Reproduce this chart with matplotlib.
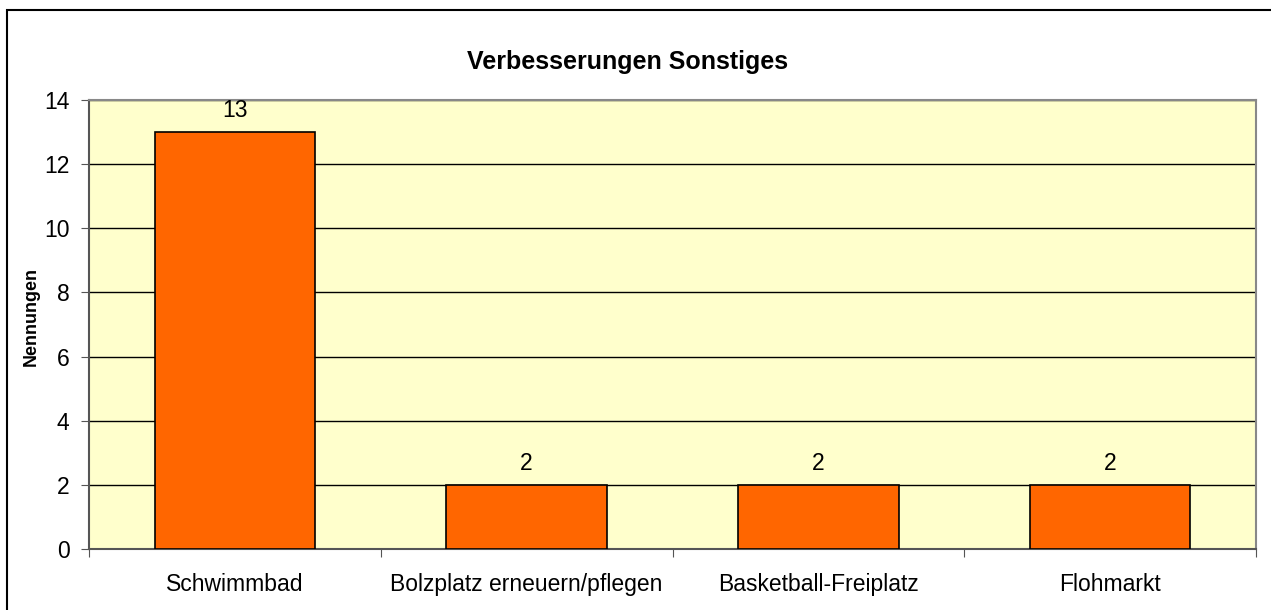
import matplotlib
matplotlib.use("Agg")
import matplotlib.pyplot as plt
from matplotlib.patches import Rectangle

# data
categories = ["Schwimmbad", "Bolzplatz erneuern/pflegen", "Basketball-Freiplatz", "Flohmarkt"]
nennungen = [13, 2, 2, 2]
y_ticks = [0, 2, 4, 6, 8, 10, 12, 14]

plt.rcParams['font.family'] = ['Liberation Sans', 'DejaVu Sans']

W, H = 1271, 610
fig = plt.figure(figsize=(W / 100, H / 100), dpi=100)

# plot area in pixels: left 89, right 1256, top 100, bottom 549
ax = fig.add_axes([89 / W, 1 - 549 / H, (1256 - 89) / W, (549 - 100) / H])
ax.set_facecolor('#FFFFCC')

x = list(range(len(categories)))
ax.bar(x, nennungen, width=0.55, color='#FF6600', edgecolor='black',
       linewidth=1.2, zorder=3)
for xi, v in zip(x, nennungen):
    ax.text(xi, v + 0.3, str(v), ha='center', va='bottom', fontsize=16.5, zorder=4)

ax.set_xlim(-0.5, len(categories) - 0.5)
ax.set_ylim(0, 14)
ax.set_yticks(y_ticks)
ax.set_yticklabels([str(t) for t in y_ticks], fontsize=16.5)
ax.yaxis.grid(True, color='black', linewidth=1)
ax.set_axisbelow(True)

# category labels between the tick marks
ax.set_xticks([i - 0.5 for i in range(len(categories) + 1)])
ax.set_xticklabels([])
ax.set_xticks(x, minor=True)
ax.set_xticklabels(categories, minor=True, fontsize=16.5)
ax.tick_params(axis='x', which='minor', length=0, pad=17)
ax.tick_params(axis='x', which='major', length=6, direction='out', color='#555555')
ax.tick_params(axis='y', length=6, direction='out', color='#555555', pad=8)

for side in ['left', 'bottom']:
    ax.spines[side].set_color('#555555')
    ax.spines[side].set_linewidth(1.5)
for side in ['top', 'right']:
    ax.spines[side].set_color('#888888')
    ax.spines[side].set_linewidth(1.5)

fig.text(31 / W, 1 - 317 / H, 'Nennungen', rotation=90, ha='center', va='center',
         fontsize=13, fontweight='bold')

fig.text(628 / W, 1 - 62 / H, 'Verbesserungen Sonstiges', ha='center', va='center',
         fontsize=18, fontweight='bold')

# outer chart frame
fig.patches.append(Rectangle((7 / W, -0.1), 1.2, 1 - 10 / H + 0.1,
                             transform=fig.transFigure, fill=False,
                             edgecolor='black', linewidth=1.5))

plt.savefig('out.png', dpi=100)
